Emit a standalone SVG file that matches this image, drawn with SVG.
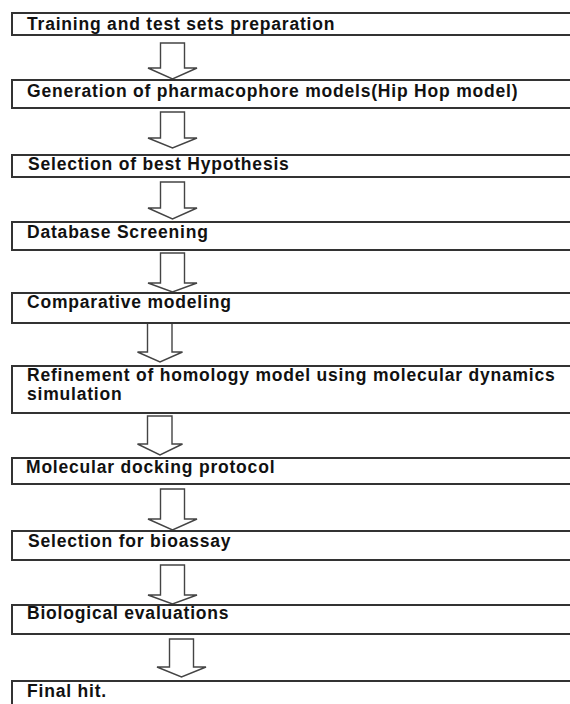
<svg xmlns="http://www.w3.org/2000/svg" width="570" height="704" viewBox="0 0 570 704">
<style>
.box{fill:#fff;stroke:#333;stroke-width:2}
.arr{fill:#fff;stroke:#444;stroke-width:1.4;stroke-linejoin:miter}
.t{font-family:"Liberation Sans",Arial,sans-serif;font-weight:bold;font-size:17.5px;letter-spacing:0.8px;fill:#111}
</style>
<rect width="570" height="704" fill="#fff"/>
<g id="connectors">
<path class="arr" d="M160.5,43 H184.5 V68 H197 L172.5,79 L148,68 H160.5 Z"/>
<path class="arr" d="M160.5,112 H184.5 V138 H197 L172.5,148 L148,138 H160.5 Z"/>
<path class="arr" d="M160.5,182 H184.5 V208 H197 L172.5,219 L148,208 H160.5 Z"/>
<path class="arr" d="M160.5,253 H184.5 V283 H197 L172.5,292 L148,283 H160.5 Z"/>
<path class="arr" d="M147.5,323 H172 V352 H182.5 L160,362 L137.5,352 H147.5 Z"/>
<path class="arr" d="M147.5,416 H172 V444 H182.5 L160,455 L137.5,444 H147.5 Z"/>
<path class="arr" d="M160.5,489 H184.5 V519 H197 L172.5,530 L148,519 H160.5 Z"/>
<path class="arr" d="M160.5,565 H184.5 V595 H197 L172.5,604 L148,595 H160.5 Z"/>
<path class="arr" d="M169.5,639 H193.5 V667 H206 L181.5,677 L157,667 H169.5 Z"/>
</g>
<g id="n1"><rect class="box" x="12" y="13" width="570" height="22"/><text class="t" x="27" y="29.5">Training and test sets preparation</text></g>
<g id="n2"><rect class="box" x="12" y="80" width="570" height="28"/><text class="t" x="27" y="96.5">Generation of pharmacophore models(Hip Hop model)</text></g>
<g id="n3"><rect class="box" x="12" y="155" width="570" height="22"/><text class="t" x="28" y="170">Selection of best Hypothesis</text></g>
<g id="n4"><rect class="box" x="12" y="222" width="570" height="28"/><text class="t" x="27" y="238">Database Screening</text></g>
<g id="n5"><rect class="box" x="12" y="293" width="570" height="30"/><text class="t" x="27" y="308">Comparative modeling</text></g>
<g id="n6"><rect class="box" x="12" y="366" width="570" height="47"/><text class="t" x="27" y="381">Refinement of homology model using molecular dynamics</text><text class="t" x="27" y="400">simulation</text></g>
<g id="n7"><rect class="box" x="12" y="458" width="570" height="26"/><text class="t" x="26" y="473">Molecular docking protocol</text></g>
<g id="n8"><rect class="box" x="12" y="531" width="570" height="29"/><text class="t" x="28" y="547">Selection for bioassay</text></g>
<g id="n9"><rect class="box" x="12" y="605" width="570" height="29"/><text class="t" x="27" y="619">Biological evaluations</text></g>
<g id="n10"><rect class="box" x="12" y="681" width="570" height="40"/><text class="t" x="27" y="697">Final hit.</text></g>
</svg>
